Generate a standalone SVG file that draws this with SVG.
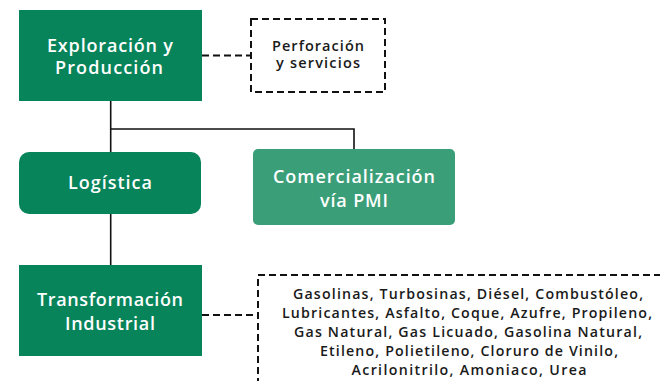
<svg xmlns="http://www.w3.org/2000/svg" width="660" height="381" viewBox="0 0 660 381">
<style>
.box{fill:#07845a}
.lbox{fill:#3a9e79}
.wt{fill:#ffffff;font-family:"Open Sans","Liberation Sans",sans-serif;font-weight:600;text-anchor:middle}
.bt{fill:#1a1a1a;font-family:"Open Sans","Liberation Sans",sans-serif;font-weight:600;text-anchor:middle}
.ln{stroke:#111;stroke-width:1.6;fill:none}
.dl{stroke:#111;stroke-width:2;fill:none;stroke-dasharray:7 4}
</style>
<rect width="660" height="381" fill="#fff"/>
<g id="connectors">
<path class="ln" d="M110.7 100 V265"/>
<path class="ln" d="M110.7 129 H354 V149"/>
<path class="dl" d="M202 55.5 H251"/>
<path class="dl" d="M202 315 H258"/>
</g>
<g id="exploracion">
<rect class="box" x="19" y="10" width="183" height="91"/>
<text class="wt" font-size="18" x="110" y="52" textLength="126" lengthAdjust="spacing">Exploración y</text>
<text class="wt" font-size="18" x="109" y="74" textLength="108" lengthAdjust="spacing">Producción</text>
</g>
<g id="perforacion">
<rect class="dl" x="251" y="19" width="134" height="73"/>
<text class="bt" font-size="14.5" x="318" y="50.5" textLength="92" lengthAdjust="spacing">Perforación</text>
<text class="bt" font-size="14.5" x="318" y="68" textLength="84" lengthAdjust="spacing">y servicios</text>
</g>
<g id="logistica">
<rect class="box" x="19" y="152" width="182" height="62" rx="10"/>
<text class="wt" font-size="18" x="110" y="189" textLength="84" lengthAdjust="spacing">Logística</text>
</g>
<g id="comercializacion">
<rect class="lbox" x="253" y="149" width="202" height="76" rx="5"/>
<text class="wt" font-size="18" x="354" y="183" textLength="162" lengthAdjust="spacing">Comercialización</text>
<text class="wt" font-size="18" x="354" y="207" textLength="68" lengthAdjust="spacing">vía PMI</text>
</g>
<g id="transformacion">
<rect class="box" x="19" y="265" width="183" height="91"/>
<text class="wt" font-size="18" x="110" y="306" textLength="146" lengthAdjust="spacing">Transformación</text>
<text class="wt" font-size="18" x="110" y="330" textLength="90" lengthAdjust="spacing">Industrial</text>
</g>
<g id="productos">
<rect class="dl" x="258" y="275" width="420" height="130"/>
<text class="bt" font-size="14.2" x="468" y="299" textLength="350" lengthAdjust="spacing">Gasolinas, Turbosinas, Diésel, Combustóleo,</text>
<text class="bt" font-size="14.2" x="467" y="318" textLength="370" lengthAdjust="spacing">Lubricantes, Asfalto, Coque, Azufre, Propileno,</text>
<text class="bt" font-size="14.2" x="468" y="337" textLength="348" lengthAdjust="spacing">Gas Natural, Gas Licuado, Gasolina Natural,</text>
<text class="bt" font-size="14.2" x="469" y="356" textLength="298" lengthAdjust="spacing">Etileno, Polietileno, Cloruro de Vinilo,</text>
<text class="bt" font-size="14.2" x="469" y="375" textLength="235" lengthAdjust="spacing">Acrilonitrilo, Amoniaco, Urea</text>
</g>
</svg>
